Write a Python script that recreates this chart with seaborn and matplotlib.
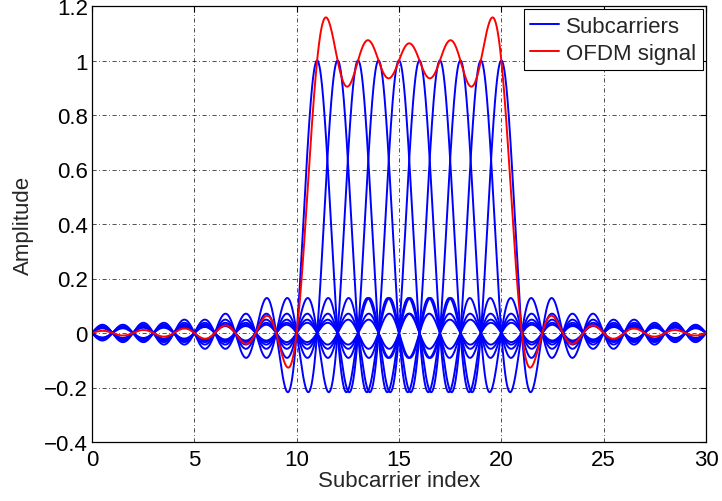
import numpy as np
import pandas as pd
import matplotlib
matplotlib.use("Agg")
import matplotlib.pyplot as plt
import seaborn as sns

# Data: subcarrier centres (sinc-shaped subcarriers) on a subcarrier-index axis
subcarrier_centers = [11, 12, 13, 14, 15, 16, 17, 18, 19, 20]
x_start, x_stop, n_samples = 0, 30, 3001
x_ticks = [0, 5, 10, 15, 20, 25, 30]
y_ticks = [-0.4, -0.2, 0, 0.2, 0.4, 0.6, 0.8, 1, 1.2]
y_tick_labels = ["\u22120.4", "\u22120.2", "0", "0.2", "0.4", "0.6", "0.8", "1", "1.2"]

x = np.linspace(x_start, x_stop, n_samples)
frames = []
for c in subcarrier_centers:
    frames.append(pd.DataFrame({"x": x, "amp": np.sinc(x - c), "carrier": c}))
df = pd.concat(frames, ignore_index=True)
ofdm = df.groupby("x", as_index=False)["amp"].sum()

sns.set_style("white")
plt.rcParams["font.family"] = ["Liberation Sans", "DejaVu Sans"]

fig = plt.figure(figsize=(7.22, 5.02), dpi=100)
ax = fig.add_axes([92 / 722, 1 - 443 / 502, (706 - 92) / 722, (443 - 7) / 502])

for i, c in enumerate(subcarrier_centers):
    sub = df[df["carrier"] == c]
    sns.lineplot(data=sub, x="x", y="amp", ax=ax, color="#0000ff", linewidth=1.4,
                 estimator=None, sort=False, label="Subcarriers" if i == 0 else None)
sns.lineplot(data=ofdm, x="x", y="amp", ax=ax, color="#ff0000", linewidth=1.4,
             estimator=None, sort=False, label="OFDM signal")

ax.set_xlim(0, 30)
ax.set_ylim(-0.4, 1.2)
ax.set_xticks(x_ticks)
ax.set_xticklabels([str(t) for t in x_ticks])
ax.set_yticks(y_ticks)
ax.set_yticklabels(y_tick_labels)
ax.tick_params(axis="both", direction="in", labelsize=16, length=4, width=0.8,
               top=True, right=True, colors="black")
ax.tick_params(axis="x", pad=5)
ax.tick_params(axis="y", pad=3)
ax.grid(True, linestyle=(0, (5, 3, 1, 3)), color="black", linewidth=0.6, alpha=0.8)
ax.set_axisbelow(True)
for s in ax.spines.values():
    s.set_color("black")
    s.set_linewidth(0.9)
    s.set_visible(True)

ax.set_xlabel("Subcarrier index", fontsize=16, labelpad=0)
ax.set_ylabel("Amplitude", fontsize=16, labelpad=7)

leg = ax.legend(loc="upper right", fontsize=16, frameon=True, fancybox=False,
                borderpad=0.3, handlelength=1.3, handletextpad=0.3,
                labelspacing=0.25, borderaxespad=0.15)
leg.get_frame().set_edgecolor("black")
leg.get_frame().set_linewidth(0.8)
leg.get_frame().set_alpha(1)

fig.savefig("out.png", dpi=100, facecolor="white")
